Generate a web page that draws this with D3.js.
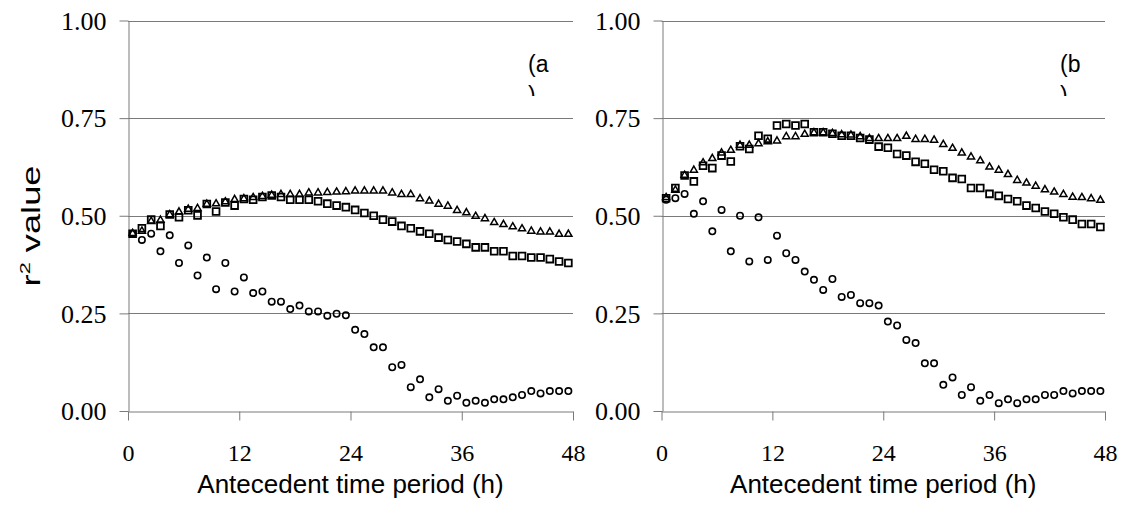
<!DOCTYPE html>
<html>
<head>
<meta charset="utf-8">
<script src="https://cdn.jsdelivr.net/npm/d3@7"></script>
<style>
  body { margin: 0; background: #fff; }
  svg { display: block; }
</style>
</head>
<body>
<div id="chart"></div>
<script>
// hours 1..48, plotted at the middle of each hourly interval
const hours = d3.range(1, 49);
const xTicks = [0, 12, 24, 36, 48];
const yTicks = [0, 0.25, 0.5, 0.75, 1.0];

// panel (a)
const circA = [0.454,0.438,0.454,0.409,0.450,0.379,0.424,0.347,0.393,0.312,
               0.379,0.306,0.342,0.302,0.306,0.280,0.280,0.261,0.270,0.255,
               0.255,0.244,0.249,0.245,0.208,0.197,0.163,0.163,0.112,0.118,
               0.061,0.081,0.035,0.056,0.026,0.039,0.021,0.026,0.021,0.030,
               0.030,0.035,0.041,0.051,0.045,0.051,0.051,0.051];
const sqA = [0.454,0.468,0.490,0.474,0.503,0.496,0.514,0.501,0.530,0.511,
             0.534,0.526,0.543,0.541,0.548,0.552,0.548,0.541,0.541,0.541,
             0.537,0.531,0.526,0.522,0.515,0.507,0.500,0.490,0.485,0.474,
             0.468,0.460,0.454,0.444,0.438,0.434,0.428,0.419,0.419,0.409,
             0.409,0.397,0.397,0.393,0.393,0.389,0.383,0.379];
const triA = [0.456,0.462,0.487,0.490,0.504,0.511,0.518,0.520,0.531,0.532,
              0.537,0.543,0.545,0.548,0.551,0.554,0.556,0.556,0.556,0.560,
              0.560,0.561,0.562,0.563,0.565,0.565,0.565,0.565,0.560,0.556,
              0.556,0.545,0.539,0.531,0.526,0.515,0.509,0.500,0.494,0.484,
              0.479,0.473,0.468,0.462,0.460,0.460,0.454,0.454];

// panel (b)
const circB = [0.541,0.545,0.556,0.505,0.537,0.460,0.515,0.409,0.500,0.383,
               0.496,0.387,0.449,0.404,0.387,0.357,0.336,0.310,0.338,0.292,
               0.297,0.276,0.276,0.270,0.229,0.219,0.182,0.174,0.122,0.122,
               0.067,0.086,0.041,0.061,0.026,0.041,0.020,0.030,0.020,0.030,
               0.030,0.041,0.041,0.051,0.045,0.051,0.051,0.051];
const sqB = [0.545,0.571,0.603,0.588,0.628,0.622,0.654,0.639,0.678,0.671,
             0.705,0.697,0.731,0.735,0.731,0.735,0.714,0.714,0.710,0.705,
             0.705,0.699,0.695,0.677,0.674,0.658,0.654,0.638,0.633,0.618,
             0.614,0.597,0.594,0.571,0.571,0.556,0.551,0.543,0.537,0.526,
             0.520,0.511,0.505,0.496,0.490,0.479,0.479,0.471];
const triB = [0.548,0.567,0.605,0.618,0.637,0.648,0.662,0.669,0.682,0.682,
              0.686,0.691,0.693,0.704,0.704,0.710,0.714,0.714,0.712,0.709,
              0.708,0.704,0.699,0.699,0.699,0.699,0.705,0.697,0.697,0.695,
              0.684,0.674,0.662,0.652,0.642,0.626,0.618,0.607,0.592,0.585,
              0.577,0.568,0.562,0.556,0.549,0.548,0.545,0.541];

const W = 1124, H = 521;
const svg = d3.select("#chart").append("svg")
    .attr("width", W).attr("height", H);
svg.append("rect").attr("width", W).attr("height", H).attr("fill", "#fff");

const y = d3.scaleLinear().domain([0, 1]).range([411, 20.5]);
const gridColor = "#7a7a7a";
const serif = "'Liberation Serif', 'Times New Roman', serif";
const sans = "'Liberation Sans', Arial, sans-serif";

function drawPanel(x0, x1, circ, sq, tri, tag, idx) {
    const x = d3.scaleLinear().domain([0, 48]).range([x0, x1]);
    const g = svg.append("g");

    // gridlines
    g.selectAll(".grid").data(yTicks.slice(1)).join("line")
     .attr("x1", x0).attr("x2", x1)
     .attr("y1", d => Math.round(y(d)) + 0.5).attr("y2", d => Math.round(y(d)) + 0.5)
     .attr("stroke", gridColor).attr("stroke-width", 1);

    // y axis
    const ya = g.append("g")
     .attr("transform", `translate(${Math.round(x0) + 0.5},0)`)
     .call(d3.axisLeft(y).tickValues(yTicks).tickFormat(d3.format(".2f"))
           .tickSizeInner(9).tickSizeOuter(0).tickPadding(13));
    ya.select(".domain").attr("stroke", gridColor);
    ya.selectAll(".tick line").attr("stroke", gridColor);
    ya.selectAll(".tick text")
      .attr("font-family", serif)
      .attr("font-size", 26).attr("fill", "#000").attr("dy", "0.34em");

    // x axis
    const xa = g.append("g")
     .attr("transform", `translate(0,${Math.round(y(0)) + 0.5})`)
     .call(d3.axisBottom(x).tickValues(xTicks).tickFormat(d3.format("d"))
           .tickSizeInner(9).tickSizeOuter(0).tickPadding(23));
    xa.select(".domain").attr("stroke", gridColor);
    xa.selectAll(".tick line").attr("stroke", gridColor);
    xa.selectAll(".tick text")
      .attr("font-family", serif)
      .attr("font-size", 24).attr("fill", "#000");

    const pts = arr => arr.map((v, i) => ({ h: hours[i] - 0.5, v }));

    // circles
    g.selectAll(".c").data(pts(circ)).join("circle")
     .attr("cx", d => x(d.h)).attr("cy", d => y(d.v)).attr("r", 3.2)
     .attr("fill", "none").attr("stroke", "#000").attr("stroke-width", 1.6);

    // squares
    const sqSym = d3.symbol(d3.symbolSquare, 46);
    g.selectAll(".s").data(pts(sq)).join("path")
     .attr("transform", d => `translate(${x(d.h)},${y(d.v)})`)
     .attr("d", sqSym)
     .attr("fill", "none").attr("stroke", "#000").attr("stroke-width", 1.8);

    // triangles
    const triSym = d3.symbol(d3.symbolTriangle, 22);
    g.selectAll(".t").data(pts(tri)).join("path")
     .attr("transform", d => `translate(${x(d.h)},${y(d.v) + 0.5})`)
     .attr("d", triSym)
     .attr("fill", "none").attr("stroke", "#000").attr("stroke-width", 1.5);

    // x axis title
    g.append("text")
     .attr("x", (x0 + x1) / 2).attr("y", 493)
     .attr("text-anchor", "middle")
     .attr("font-family", sans)
     .attr("font-size", 26)
     .text("Antecedent time period (h)");

    // panel tag, wrapped like in the original text box: "(a" then a clipped ")"
    const tx = x1 - 45;
    g.append("text")
     .attr("x", tx).attr("y", 72)
     .attr("font-family", sans)
     .attr("font-size", 23).text("(" + tag);
    const clipId = "clip" + idx;
    svg.append("clipPath").attr("id", clipId)
     .append("rect").attr("x", tx - 5).attr("y", 80).attr("width", 30).attr("height", 16);
    g.append("text")
     .attr("x", tx).attr("y", 103)
     .attr("clip-path", `url(#${clipId})`)
     .attr("font-family", sans)
     .attr("font-size", 23).text(")");
}

drawPanel(128, 573, circA, sqA, triA, "a", 0);
drawPanel(661.5, 1105, circB, sqB, triB, "b", 1);

// y axis title (stretched along its reading direction, as in the original)
const yt = svg.append("text")
    .attr("transform", "translate(40,226) rotate(-90) scale(1.45,1)")
    .attr("text-anchor", "middle")
    .attr("font-family", sans)
    .attr("font-size", 25);
yt.append("tspan").text("r");
yt.append("tspan").attr("font-size", 15).attr("dy", -10).text("2");
yt.append("tspan").attr("dy", 10).text(" value");
</script>
</body>
</html>
